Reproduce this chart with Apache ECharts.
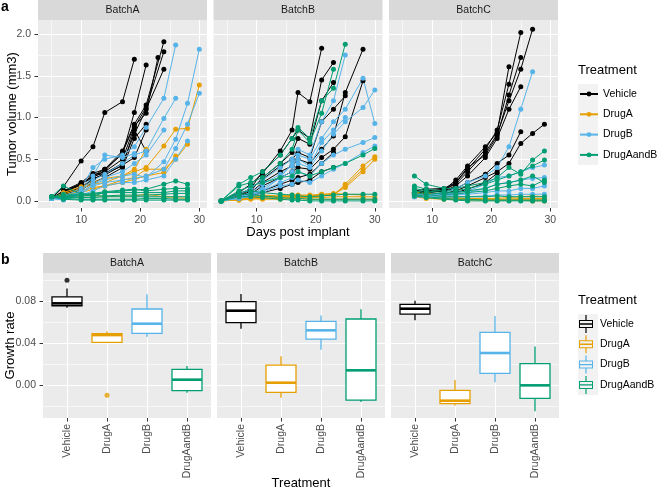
<!DOCTYPE html>
<html>
<head>
<meta charset="utf-8">
<script src="https://cdn.jsdelivr.net/npm/echarts@6/dist/echarts.min.js"></script>
<style>
  html, body { margin: 0; padding: 0; background: #fff; }
  #chart { width: 658px; height: 492px; }
</style>
</head>
<body>
<div id="chart"></div>
<script>
// ---- data ----
var treatments = ['Vehicle', 'DrugA', 'DrugB', 'DrugAandB'];
var batches = ['BatchA', 'BatchB', 'BatchC'];
var colors = ['#000000', '#E69F00', '#56B4E9', '#009E73'];

// tumor volume per mouse, aligned with the batch's measurement days (null = not measured)
var daysA = [5, 7, 10, 12, 14, 17, 19, 21, 23, 24, 26, 28, 30];
var volA_Vehicle = [
  [0.03, 0.17, 0.48, 0.65, 1.06, 1.19, 1.70],
  [0.03, 0.10, 0.21, 0.30, 0.38, 0.56, 1.06, 1.63],
  [0.03, 0.12, 0.22, 0.33, 0.38, 0.60, 0.92, 1.15, null, 1.91],
  [0.03, 0.10, 0.19, 0.31, 0.35, 0.50, 0.88, 1.12, null, 1.79],
  [0.03, 0.08, 0.15, 0.26, 0.33, 0.45, 0.80, 1.10, null, 1.58],
  [0.03, 0.11, 0.20, 0.28, 0.36, 0.58, 0.90, 1.05, 1.72],
  [0.03, 0.12, 0.20, 0.30, 0.33, 0.42, 0.85, 0.60],
  [0.03, 0.08, 0.13, 0.22, 0.28, 0.40, 0.75, 0.92],
  [0.03, 0.09, 0.16, 0.27, 0.31, 0.43, 0.52, 0.85]
];
var volA_DrugA = [
  [0.03, 0.08, 0.15, 0.20, 0.22, 0.30, 0.35, 0.40, null, 0.66, 0.86, 0.87, 1.39],
  [0.03, 0.06, 0.12, 0.16, 0.18, 0.25, 0.28, 0.38, null, 0.38, 0.50, 0.68],
  [0.03, 0.10, 0.17, 0.22, 0.27, 0.30, 0.38, 0.62],
  [0.03, 0.05, 0.10, 0.14, 0.18, 0.22, 0.26, 0.30, null, 0.34, 0.54],
  [0.03, 0.05, 0.06, 0.07, 0.05, 0.06, 0.06, 0.08, null, 0.05, 0.04, 0.03]
];
var volA_DrugB = [
  [0.03, 0.02, 0.12, 0.30, 0.55, 0.52, 0.57],
  [0.03, 0.05, 0.15, 0.40, 0.50, 0.55, 0.65, 0.88, null, 1.23, 1.87],
  [0.03, 0.04, 0.12, 0.25, 0.32, 0.45, 0.55, 0.60, null, 0.99, 1.23],
  [0.03, 0.02, 0.10, 0.20, 0.25, 0.30, 0.32, 0.28, null, 0.47, 0.74, 1.17, 1.82],
  [0.03, 0.01, 0.08, 0.18, 0.22, 0.25, 0.27, 0.30, null, 0.38, 0.63, 0.92, 1.29],
  [0.03, 0.02, 0.07, 0.12, 0.18, 0.22, 0.22, 0.25, null, 0.30, 0.50, 0.72],
  [0.03, 0.03, 0.10, 0.20, 0.28, 0.35, 0.45, 0.55, null, 0.85]
];
var volA_DrugAandB = [
  [0.05, 0.18, 0.08, 0.06, 0.10, 0.12, 0.13, 0.14, null, 0.20, 0.24, 0.20],
  [0.05, 0.08, 0.08, 0.09, 0.11, 0.13, 0.14, 0.12, null, 0.14, 0.15, 0.15],
  [0.05, 0.06, 0.07, 0.08, 0.10, 0.10, 0.10, 0.10, null, 0.10, 0.12, 0.12],
  [0.05, 0.05, 0.06, 0.06, 0.06, 0.07, 0.07, 0.07, null, 0.08, 0.09, 0.09],
  [0.05, 0.04, 0.04, 0.04, 0.05, 0.05, 0.05, 0.05, null, 0.05, 0.05, 0.05],
  [0.05, 0.03, 0.02, 0.02, 0.02, 0.02, 0.02, 0.03, null, 0.03, 0.02, 0.02],
  [0.05, 0.02, 0.01, 0.01, 0.01, 0.01, 0.01, 0.01, null, 0.01, 0.01, 0.01]
];

var daysB = [4, 7, 9, 11, 14, 16, 17, 19, 21, 23, 25, 28, 30];
var volB_Vehicle = [
  [0, 0.10, 0.20, 0.33, 0.60, 0.85, 1.30, 1.19, 1.83],
  [0, 0.08, 0.15, 0.35, 0.55, 0.75, 0.85, 0.75, 1.45, 1.66],
  [0, 0.05, 0.12, 0.28, 0.45, 0.58, 0.75, 0.68, 1.20, 1.42],
  [0, 0.06, 0.14, 0.26, 0.42, 0.50, 0.58, 0.52, 0.95, 1.10, 1.26],
  [0, 0.04, 0.10, 0.22, 0.35, 0.42, 0.50, 0.45, 0.62, 0.78, 1.30, 1.82],
  [0, 0.03, 0.08, 0.18, 0.28, 0.35, 0.40, 0.38, 0.52, 0.62, 0.77, 1.44],
  [0, 0.02, 0.06, 0.12, 0.20, 0.25, 0.28, 0.32, 0.45, 0.58],
  [0, 0.02, 0.05, 0.10, 0.15, 0.20, 0.22, 0.25, 0.35, 0.40]
];
var volB_DrugA = [
  [0, 0.02, 0.04, 0.06, 0.05, 0.06, 0.06, 0.05, 0.08, 0.06, 0.20, 0.42, 0.53],
  [0, 0.01, 0.03, 0.05, 0.04, 0.05, 0.05, 0.05, 0.06, 0.08, 0.16, 0.35, 0.50],
  [0, 0.02, 0.04, 0.05, 0.05, 0.05, 0.06, 0.06, 0.06, 0.08, 0.18, 0.38],
  [0, 0.02, 0.03, 0.02, 0.02, 0.03, 0.03, 0.02, 0.02, 0.02, 0.02, 0.02, 0.02],
  [0, 0.03, 0.05, 0.07, 0.06, 0.07, 0.07, 0.07, 0.08, 0.09, 0.08, 0.07],
  [0, 0.01, 0.02, 0.03, 0.03, 0.04, 0.04, 0.04, 0.04, 0.05, 0.05, 0.05, 0.05]
];
var volB_DrugB = [
  [0, 0.08, 0.15, 0.25, 0.40, 0.50, 0.62, 0.55, 0.95, 1.20, 1.75],
  [0, 0.05, 0.10, 0.20, 0.32, 0.42, 0.55, 0.50, 0.75, 0.95, 1.10, 1.47, 0.93],
  [0, 0.04, 0.08, 0.15, 0.28, 0.35, 0.45, 0.40, 0.60, 0.80, 0.95, 1.12, 1.33],
  [0, 0.03, 0.06, 0.12, 0.22, 0.28, 0.35, 0.30, 0.45, 0.55, 0.62, 0.70, 0.76],
  [0, 0.03, 0.05, 0.10, 0.18, 0.20, 0.25, 0.22, 0.30, 0.38, 0.45, 0.58, 0.66],
  [0, 0.05, 0.08, 0.12, 0.28, 0.45, 0.50, 0.42, 0.70, 0.85, 1.00]
];
var volB_DrugAandB = [
  [0, 0.20, 0.28, 0.35, 0.55, 0.75, 0.88, 0.75, 1.20, 1.35, 1.88],
  [0, 0.18, 0.22, 0.28, 0.45, 0.62, 0.85, 0.70, 1.05, 1.58],
  [0, 0.12, 0.18, 0.22, 0.28, 0.30, 0.35, 0.30, 0.35, 0.40, 0.45, 0.55, 0.63],
  [0, 0.10, 0.12, 0.10, 0.08, 0.07, 0.06, 0.05, 0.06, 0.07, 0.08, 0.08, 0.08],
  [0, 0.08, 0.08, 0.06, 0.04, 0.03, 0.03, 0.02, 0.02, 0.02, 0.02, 0.02, 0.02],
  [0, 0.05, 0.05, 0.04, 0.02, 0.01, 0.01, 0.00, 0.00, 0.00, 0.00, 0.00, 0.00]
];

var daysC = [7, 9, 12, 14, 16, 19, 21, 23, 25, 27, 29];
var volC_Vehicle = [
  [0.12, 0.14, 0.15, 0.22, 0.38, 0.62, 0.85, 1.40, 2.02],
  [0.10, 0.12, 0.14, 0.20, 0.35, 0.58, 0.80, 1.20, 1.58, 2.06],
  [0.08, 0.10, 0.13, 0.25, 0.42, 0.65, 0.82, 1.61],
  [0.10, 0.11, 0.12, 0.22, 0.40, 0.55, 0.78, 1.27, 1.72],
  [0.09, 0.10, 0.12, 0.18, 0.30, 0.52, 0.75, 1.10, 1.37],
  [0.07, 0.08, 0.09, 0.12, 0.18, 0.28, 0.35, 0.45, 0.69, 0.81, 0.92],
  [0.10, 0.10, 0.12, 0.15, 0.22, 0.32, 0.45, 0.55, 0.83],
  [0.06, 0.07, 0.08, 0.10, 0.14, 0.22, 0.33]
];
var volC_DrugA = [
  [0.10, 0.08, 0.04, 0.03, 0.03, 0.03, 0.03, 0.04, 0.05, 0.06, 0.05],
  [0.08, 0.10, 0.06, 0.04, 0.03, 0.02, 0.02, 0.02, 0.03, 0.03, 0.03],
  [0.05, 0.03, 0.02, 0.02, 0.02, 0.02, 0.01, 0.01, 0.02, 0.02, 0.02],
  [0.12, 0.06, 0.03, 0.02, 0.01, 0.01, 0.01, 0.01, 0.01, 0.00, 0.00]
];
var volC_DrugB = [
  [0.08, 0.07, 0.10, 0.15, 0.22, 0.30, 0.40, 0.65, 1.10, 1.55],
  [0.06, 0.07, 0.08, 0.10, 0.12, 0.20, 0.28, 0.30, 0.35, 0.40, 0.43],
  [0.05, 0.06, 0.07, 0.09, 0.10, 0.15, 0.20, 0.22, 0.25, 0.27, 0.28],
  [0.05, 0.05, 0.06, 0.07, 0.08, 0.10, 0.12, 0.12, 0.15, 0.15, 0.18],
  [0.05, 0.05, 0.04, 0.05, 0.05, 0.06, 0.07, 0.07, 0.08, 0.08, 0.08]
];
var volC_DrugAandB = [
  [0.30, 0.20, 0.15, 0.15, 0.18, 0.22, 0.28, 0.40, 0.32, 0.49, 0.60],
  [0.18, 0.14, 0.12, 0.12, 0.15, 0.20, 0.25, 0.30, 0.35, 0.42, 0.49],
  [0.15, 0.12, 0.10, 0.10, 0.12, 0.15, 0.20, 0.22, 0.25, 0.30, 0.22],
  [0.12, 0.10, 0.08, 0.08, 0.10, 0.12, 0.15, 0.18, 0.20, 0.18, 0.25],
  [0.10, 0.08, 0.05, 0.05, 0.05, 0.05, 0.06, 0.05, 0.05, 0.05, 0.05],
  [0.08, 0.05, 0.03, 0.02, 0.02, 0.01, 0.01, 0.01, 0.01, 0.01, 0.01],
  [0.06, 0.04, 0.02, 0.01, 0.00, 0.00, 0.00, 0.00, 0.00, 0.00, 0.00]
];

// growth rate box stats per treatment: [min, q1, median, q3, max]
var growthA = [[0.0736, 0.0755, 0.0778, 0.0840, 0.0920], [0.0406, 0.0406, 0.0476, 0.0489, 0.0511],
               [0.0460, 0.0492, 0.0584, 0.0724, 0.0864], [-0.0073, -0.0054, 0.0051, 0.0149, 0.0181]];
var growthB = [[0.0537, 0.0594, 0.0708, 0.0794, 0.0867], [-0.0121, -0.0070, 0.0022, 0.0190, 0.0273],
               [0.0337, 0.0438, 0.0521, 0.0606, 0.0663], [-0.0162, -0.0143, 0.0140, 0.0629, 0.0721]];
var growthC = [[0.0616, 0.0676, 0.0727, 0.0768, 0.0803], [-0.0194, -0.0178, -0.0149, -0.0051, 0.0048],
               [0.0026, 0.0111, 0.0305, 0.0501, 0.0657], [-0.0250, -0.0127, -0.0003, 0.0203, 0.0368]];
// outliers: [treatment index, value]
var outliersA = [[0, 0.0997], [1, -0.0098]];
var outliersB = [];
var outliersC = [];

// axis ticks
var dayTicks = [10, 20, 30], dayMinor = [5, 15, 25];
var volTicks = [0, 0.5, 1, 1.5, 2], volMinor = [0.25, 0.75, 1.25, 1.75];
var rateTicks = [0, 0.04, 0.08], rateMinor = [-0.02, 0.02, 0.06, 0.1];
var treatTicks = [1, 2, 3, 4];

// ---- layout ----
var FONT = '"Liberation Sans", Arial, sans-serif';
var aLeft = [38, 213.5, 389], aW = 169, aTop = 20, aH = 188;
var bLeft = [43, 217, 391], bW = 168, bTop = 273, bH = 145;

var days = [daysA, daysB, daysC];
var vols = [
  [volA_Vehicle, volA_DrugA, volA_DrugB, volA_DrugAandB],
  [volB_Vehicle, volB_DrugA, volB_DrugB, volB_DrugAandB],
  [volC_Vehicle, volC_DrugA, volC_DrugB, volC_DrugAandB]
];
var growth = [growthA, growthB, growthC];
var outliers = [outliersA, outliersB, outliersC];

var myChart = echarts.init(document.getElementById('chart'));

var grids = [], xAxes = [], yAxes = [], series = [], graphics = [];
function major() { return { show: true, lineStyle: { color: '#ffffff', width: 1.1 } }; }
function minor() { return { show: true, lineStyle: { color: '#ffffff', width: 0.6 } }; }
var tickStyle = { color: '#333333', width: 1 };
var labelStyle = { color: '#4D4D4D', fontSize: 10.5, fontFamily: FONT };
function noLine() { return { show: false, onZero: false }; }

// panel a grids 0..2, panel b grids 3..5
for (var i = 0; i < 3; i++) {
  grids.push({ left: aLeft[i], top: aTop, width: aW, height: aH, show: true,
    backgroundColor: '#EBEBEB', borderWidth: 0, outerBoundsMode: 'none', containLabel: false });
}
for (var i = 0; i < 3; i++) {
  grids.push({ left: bLeft[i], top: bTop, width: bW, height: bH, show: true,
    backgroundColor: '#EBEBEB', borderWidth: 0, outerBoundsMode: 'none', containLabel: false });
}

// x axes: 0..2 a main, 3..5 a minor, 6..8 b main
for (var i = 0; i < 3; i++) {
  xAxes.push({
    type: 'value', gridIndex: i, min: 2.7, max: 31.3, position: 'bottom',
    axisLine: noLine(),
    axisTick: { show: true, length: 3.5, lineStyle: tickStyle, customValues: dayTicks },
    axisLabel: Object.assign({ customValues: dayTicks, margin: 7 }, labelStyle),
    splitLine: major()
  });
}
for (var i = 0; i < 3; i++) {
  xAxes.push({
    type: 'value', gridIndex: i, min: 2.7, max: 31.3, position: 'top',
    axisLine: noLine(),
    axisTick: { show: false, customValues: dayMinor },
    axisLabel: { show: false, customValues: dayMinor },
    splitLine: minor()
  });
}
for (var i = 0; i < 3; i++) {
  xAxes.push({
    type: 'value', gridIndex: 3 + i, min: 0.4, max: 4.6, position: 'bottom',
    axisLine: noLine(),
    axisTick: { show: true, length: 3.5, lineStyle: tickStyle, customValues: treatTicks },
    axisLabel: Object.assign({ customValues: treatTicks, margin: 6, rotate: 90,
      formatter: function (v) { return treatments[Math.round(v) - 1]; } }, labelStyle),
    splitLine: major()
  });
}

// y axes: 0..2 a main, 3..5 a minor, 6..8 b main, 9..11 b minor
for (var i = 0; i < 3; i++) {
  yAxes.push({
    type: 'value', gridIndex: i, min: -0.085, max: 2.17,
    axisLine: noLine(),
    axisTick: { show: i === 0, length: 3.5, lineStyle: tickStyle, customValues: volTicks },
    axisLabel: Object.assign({ show: i === 0, customValues: volTicks, margin: 7,
      formatter: function (v) { return v.toFixed(1); } }, labelStyle),
    splitLine: major()
  });
}
for (var i = 0; i < 3; i++) {
  yAxes.push({
    type: 'value', gridIndex: i, min: -0.085, max: 2.17, position: 'right',
    axisLine: noLine(),
    axisTick: { show: false, customValues: volMinor },
    axisLabel: { show: false, customValues: volMinor },
    splitLine: minor()
  });
}
for (var i = 0; i < 3; i++) {
  yAxes.push({
    type: 'value', gridIndex: 3 + i, min: -0.0314, max: 0.1067,
    axisLine: noLine(),
    axisTick: { show: i === 0, length: 3.5, lineStyle: tickStyle, customValues: rateTicks },
    axisLabel: Object.assign({ show: i === 0, customValues: rateTicks, margin: 7,
      formatter: function (v) { return v.toFixed(2); } }, labelStyle),
    splitLine: major()
  });
}
for (var i = 0; i < 3; i++) {
  yAxes.push({
    type: 'value', gridIndex: 3 + i, min: -0.0314, max: 0.1067, position: 'right',
    axisLine: noLine(),
    axisTick: { show: false, customValues: rateMinor },
    axisLabel: { show: false, customValues: rateMinor },
    splitLine: minor()
  });
}

// tumor growth lines, one series per mouse
for (var b = 0; b < 3; b++) {
  for (var t = 0; t < 4; t++) {
    vols[b][t].forEach(function (mouse) {
      var pts = days[b].map(function (d, k) { return [d, mouse[k]]; })
        .filter(function (p) { return p[1] != null; });
      series.push({
        type: 'line', name: treatments[t], xAxisIndex: b, yAxisIndex: b,
        data: pts, connectNulls: true, symbol: 'circle', symbolSize: 5,
        lineStyle: { width: 1, color: colors[t] }, itemStyle: { color: colors[t] },
        emphasis: { disabled: true }, silent: true
      });
    });
  }
}

// boxplots drawn through the axes
function renderBox(params, api) {
  var x = api.value(0);
  var p = [1, 2, 3, 4, 5].map(function (k) { return api.coord([x, api.value(k)]); });
  var w = api.size([0.75, 0])[0];
  var c = api.visual('color');
  var cx = p[0][0];
  return {
    type: 'group',
    children: [
      { type: 'line', shape: { x1: cx, y1: p[0][1], x2: cx, y2: p[1][1] }, style: { stroke: c, lineWidth: 1.3 } },
      { type: 'line', shape: { x1: cx, y1: p[3][1], x2: cx, y2: p[4][1] }, style: { stroke: c, lineWidth: 1.3 } },
      { type: 'rect', shape: { x: cx - w / 2, y: p[3][1], width: w, height: p[1][1] - p[3][1] },
        style: { fill: '#ffffff', stroke: c, lineWidth: 1.3 } },
      { type: 'line', shape: { x1: cx - w / 2, y1: p[2][1], x2: cx + w / 2, y2: p[2][1] },
        style: { stroke: c, lineWidth: 2.6 } }
    ]
  };
}
for (var b = 0; b < 3; b++) {
  for (var t = 0; t < 4; t++) {
    series.push({
      type: 'custom', name: treatments[t], xAxisIndex: 6 + b, yAxisIndex: 6 + b,
      renderItem: renderBox, itemStyle: { color: colors[t] },
      data: [[t + 1].concat(growth[b][t])],
      encode: { x: 0, y: [1, 2, 3, 4, 5] }, silent: true, z: 3
    });
  }
  if (outliers[b].length) {
    series.push({
      type: 'scatter', xAxisIndex: 6 + b, yAxisIndex: 6 + b, symbolSize: 5, z: 4, silent: true,
      data: outliers[b].map(function (o) {
        return { value: [o[0] + 1, o[1]], itemStyle: { color: colors[o[0]] } };
      })
    });
  }
}

// facet strips, axis titles and legend key backgrounds
function label(text, x, y, size, rot) {
  return { type: 'text', x: x, y: y, rotation: rot || 0, silent: true,
    style: { text: text, fill: '#000000', font: size + 'px ' + FONT, align: 'center', verticalAlign: 'middle' } };
}
for (var i = 0; i < 3; i++) {
  graphics.push({ type: 'rect', shape: { x: aLeft[i], y: 0, width: aW, height: aTop }, style: { fill: '#D9D9D9' }, silent: true });
  graphics.push({ type: 'text', x: aLeft[i] + aW / 2, y: aTop / 2 + 0.5, silent: true,
    style: { text: batches[i], fill: '#1A1A1A', font: '10.5px ' + FONT, align: 'center', verticalAlign: 'middle' } });
  graphics.push({ type: 'rect', shape: { x: bLeft[i], y: bTop - 20, width: bW, height: 20 }, style: { fill: '#D9D9D9' }, silent: true });
  graphics.push({ type: 'text', x: bLeft[i] + bW / 2, y: bTop - 10 + 0.5, silent: true,
    style: { text: batches[i], fill: '#1A1A1A', font: '10.5px ' + FONT, align: 'center', verticalAlign: 'middle' } });
}
graphics.push(label('Tumor volume (mm3)', 12, aTop + aH / 2, 13, Math.PI / 2));
graphics.push(label('Growth rate', 10, bTop + bH / 2, 13, Math.PI / 2));
graphics.push(label('Days post implant', aLeft[1] + aW / 2, 232, 13));
graphics.push(label('Treatment', bLeft[1] + bW / 2, 483, 13));
graphics.push({ type: 'rect', z: -1, shape: { x: 578, y: 84, width: 20, height: 81 }, style: { fill: '#F2F2F2' }, silent: true });
graphics.push({ type: 'rect', z: -1, shape: { x: 578, y: 314, width: 20, height: 81 }, style: { fill: '#F2F2F2' }, silent: true });

var boxIcon = 'path://M9.4,1H10.6V6H9.4Z M3,6H17V14H3Z M4,7V13H16V7Z M3,9.3H17V10.7H3Z M9.4,14H10.6V19H9.4Z';

var option = {
  animation: false,
  backgroundColor: '#ffffff',
  title: [
    { text: 'a', left: 1, top: 0, padding: 0, textStyle: { fontSize: 14, fontWeight: 'bold', color: '#000', fontFamily: FONT } },
    { text: 'b', left: 1, top: 253, padding: 0, textStyle: { fontSize: 14, fontWeight: 'bold', color: '#000', fontFamily: FONT } },
    { text: 'Treatment', left: 578, top: 64, padding: 0, textStyle: { fontSize: 13, fontWeight: 'normal', color: '#000', fontFamily: FONT } },
    { text: 'Treatment', left: 578, top: 294, padding: 0, textStyle: { fontSize: 13, fontWeight: 'normal', color: '#000', fontFamily: FONT } }
  ],
  legend: [
    { data: treatments, orient: 'vertical', left: 579, top: 85, padding: 0,
      itemWidth: 18, itemHeight: 6, itemGap: 2.3, selectedMode: false,
      textStyle: { fontSize: 10.5, color: '#000', fontFamily: FONT, lineHeight: 18 } },
    { data: treatments.map(function (t) { return { name: t, icon: boxIcon }; }),
      orient: 'vertical', left: 579, top: 315, padding: 0,
      itemWidth: 18, itemHeight: 18, itemGap: 2.3, selectedMode: false,
      textStyle: { fontSize: 10.5, color: '#000', fontFamily: FONT, lineHeight: 18 } }
  ],
  grid: grids,
  xAxis: xAxes,
  yAxis: yAxes,
  series: series,
  graphic: graphics
};
myChart.setOption(option);
</script>
</body>
</html>
